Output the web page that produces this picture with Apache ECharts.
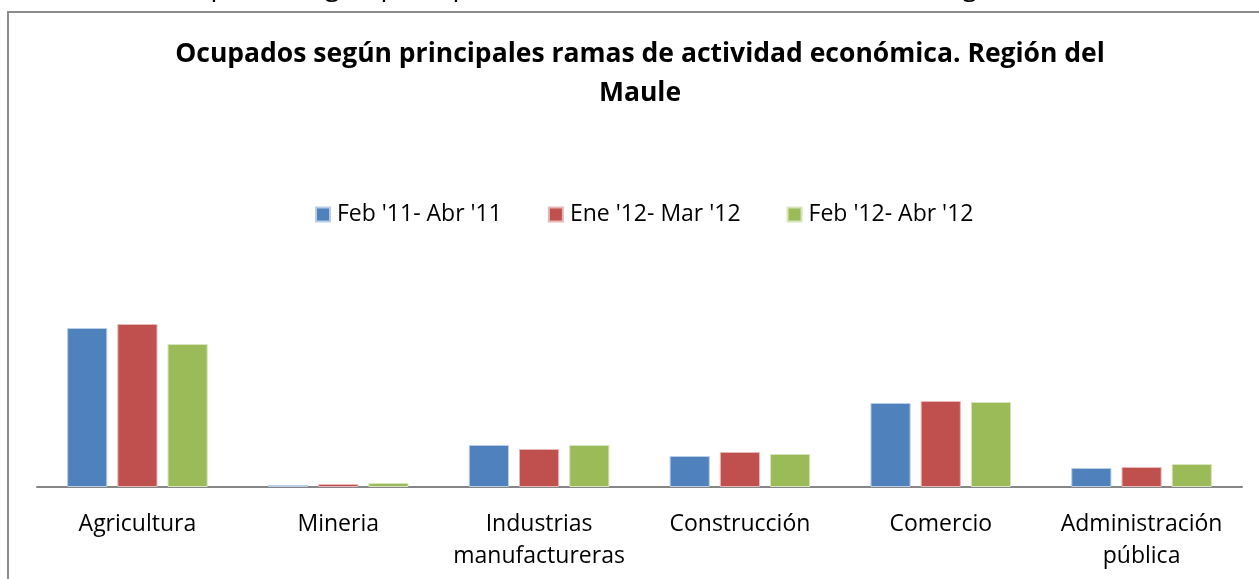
<!DOCTYPE html>
<html>
<head>
<meta charset="utf-8">
<script src="https://cdn.jsdelivr.net/npm/echarts@6/dist/echarts.min.js"></script>
<style>
  html, body { margin: 0; padding: 0; background: #fff; }
  #chart { width: 1259px; height: 579px; }
</style>
</head>
<body>
<div id="chart"></div>
<script>
// ramas de actividad (eje x)
var ramas = ['Agricultura', 'Mineria', 'Industrias\nmanufactureras', 'Construcción', 'Comercio', 'Administración\npública'];
// trimestres (leyenda)
var periodos = ["Feb '11- Abr '11", "Ene '12- Mar '12", "Feb '12- Abr '12"];
// ocupados (miles)
var feb11 = [159, 2, 42, 31, 84, 19];
var ene12 = [163, 3, 38, 35, 86, 20];
var feb12 = [143, 4, 42, 33, 85, 23];

var colores = ['#4F81BD', '#C0504D', '#9BBB59'];
var bordes = ['#B9CDE5', '#E6B9B8', '#D7E4BD'];
var fuente = 'Open Sans';

var chart = echarts.init(document.getElementById('chart'));

function serie(i, datos) {
  return {
    name: periodos[i],
    type: 'bar',
    data: datos,
    barGap: '25%',
    barCategoryGap: '30%',
    itemStyle: { color: colores[i], borderColor: bordes[i], borderWidth: 1 },
    emphasis: { disabled: true }
  };
}

var option = {
  animation: false,
  backgroundColor: '#fff',
  color: colores,
  title: {
    text: 'Ocupados según principales ramas de actividad económica. Región del\nMaule',
    left: 635,
    top: 30,
    textAlign: 'center',
    textStyle: { fontFamily: fuente, fontWeight: 'bold', fontSize: 26.5, lineHeight: 39, color: '#000' }
  },
  legend: {
    data: periodos,
    top: 198,
    left: 310,
    itemWidth: 14,
    itemHeight: 14,
    itemGap: 46,
    icon: 'rect',
    textStyle: { fontFamily: fuente, fontSize: 23, color: '#000', padding: [0, 0, 0, 2] }
  },
  grid: { left: 37, right: 17, top: 287, bottom: 92 },
  xAxis: {
    type: 'category',
    data: ramas,
    axisLine: { lineStyle: { color: '#868686', width: 2 } },
    axisTick: { show: false },
    axisLabel: { interval: 0, hideOverlap: false, fontFamily: fuente, fontSize: 23, color: '#000', lineHeight: 32, margin: 21 }
  },
  yAxis: {
    type: 'value',
    min: 0,
    max: 200,
    show: false,
    splitLine: { show: false }
  },
  graphic: [
    {
      type: 'rect',
      shape: { x: 8, y: 12, width: 1300, height: 700 },
      style: { fill: 'none', stroke: '#8c8c8c', lineWidth: 2 },
      z: -1
    },
    {
      type: 'text',
      left: 159,
      top: -27,
      style: { text: 'Ocupados según principales ramas de actividad económica, Región del Maule, ', font: '27.5px "Open Sans"', fill: '#000' }
    }
  ],
  series: [serie(0, feb11), serie(1, ene12), serie(2, feb12)]
};

chart.setOption(option);
</script>
</body>
</html>
